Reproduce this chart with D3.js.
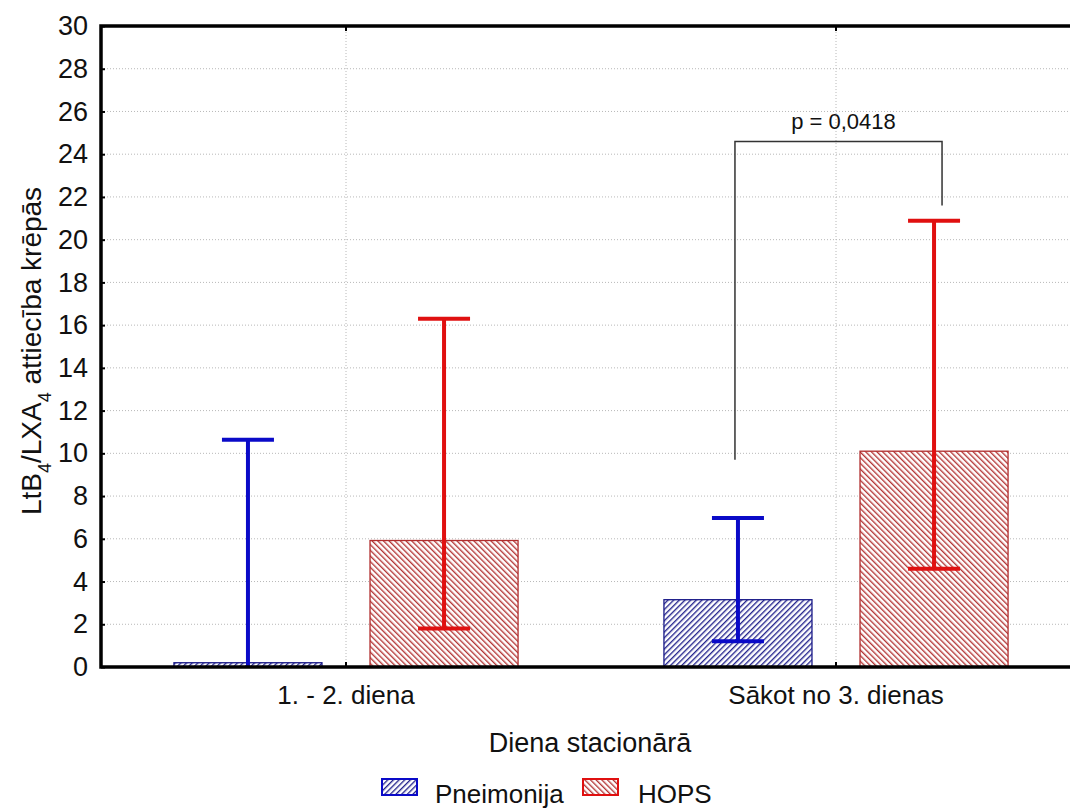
<!DOCTYPE html>
<html lang="lv">
  <head>
    <meta charset="UTF-8">
    <title>LtB4/LXA4 attiecība krēpās</title>
    <style>
      body { margin: 0; background: #fff; }
      text { font-family: "Liberation Sans", Arial, sans-serif; fill: #111; }
    </style>
  </head>
  <body>
    <div id="chart"></div>
    <script src="https://d3js.org/d3.v7.min.js"></script>
    <script>
      // data
      const categories = ["1. - 2. diena", "Sākot no 3. dienas"];
      const groups = ["Pneimonija", "HOPS"];
      const means = { "Pneimonija": [0.2, 3.15], "HOPS": [5.92, 10.1] };
      const lower = { "Pneimonija": [0, 1.2], "HOPS": [1.8, 4.6] };
      const upper = { "Pneimonija": [10.63, 6.97], "HOPS": [16.3, 20.88] };
      const yTicks = d3.range(0, 31, 2);
      const pLabel = "p = 0,0418";
      const bracket = { from: 9.7, top: 24.6, to: 21.6 };

      const colors = { "Pneimonija": "#0a0ac8", "HOPS": "#e01010" };
      const hatchColors = { "Pneimonija": "#1a1a88", "HOPS": "#b02c2c" };

      const W = 1070, H = 808;
      const plotL = 101, plotR = 1081, plotT = 26, plotB = 667;

      const svg = d3.select("#chart").append("svg")
        .attr("width", W).attr("height", H);

      // hatch patterns
      const defs = svg.append("defs");
      function hatch(id, color, dir) {
        const p = defs.append("pattern")
          .attr("id", id)
          .attr("patternUnits", "userSpaceOnUse")
          .attr("width", 4).attr("height", 4)
          .attr("patternTransform", "rotate(" + dir + ")");
        p.append("rect").attr("width", 4).attr("height", 4).attr("fill", "#fff");
        p.append("line").attr("x1", 0.7).attr("y1", 0).attr("x2", 0.7).attr("y2", 4)
          .attr("stroke", color).attr("stroke-width", 1.3);
      }
      hatch("hatch-Pneimonija", hatchColors["Pneimonija"], 45);
      hatch("hatch-HOPS", hatchColors["HOPS"], -45);

      const x = d3.scaleBand().domain(categories).range([plotL, plotR]);
      const xs = d3.scaleBand().domain(groups).range([0, x.bandwidth()])
        .paddingInner(0.245).paddingOuter(0.372);
      const y = d3.scaleLinear().domain([0, 30]).range([plotB, plotT]);

      // grid
      const grid = svg.append("g");
      grid.selectAll("line.h").data(yTicks.filter(d => d > 0 && d < 30)).enter()
        .append("line").attr("class", "h")
        .attr("x1", plotL).attr("x2", plotR)
        .attr("y1", d => y(d)).attr("y2", d => y(d))
        .attr("stroke", "#b8b8b8").attr("stroke-width", 1)
        .attr("stroke-dasharray", "1,2");
      grid.selectAll("line.v").data(categories).enter()
        .append("line").attr("class", "v")
        .attr("x1", d => x(d) + x.bandwidth() / 2).attr("x2", d => x(d) + x.bandwidth() / 2)
        .attr("y1", plotT).attr("y2", plotB)
        .attr("stroke", "#b8b8b8").attr("stroke-width", 1)
        .attr("stroke-dasharray", "1,2");

      // rows for bars
      const rows = [];
      categories.forEach(function(c, i) {
        groups.forEach(function(g) {
          rows.push({ cat: c, group: g, mean: means[g][i], lo: lower[g][i], hi: upper[g][i] });
        });
      });
      const cx = d => x(d.cat) + xs(d.group) + xs.bandwidth() / 2;

      svg.append("g").selectAll("rect").data(rows).enter()
        .append("rect")
        .attr("x", d => x(d.cat) + xs(d.group))
        .attr("y", d => y(d.mean))
        .attr("width", xs.bandwidth())
        .attr("height", d => y(0) - y(d.mean))
        .attr("fill", d => "url(#hatch-" + d.group + ")")
        .attr("stroke", d => hatchColors[d.group])
        .attr("stroke-width", 1.3);

      // error bars
      const err = svg.append("g").selectAll("g").data(rows).enter().append("g")
        .attr("stroke", d => colors[d.group]).attr("stroke-width", 4);
      err.append("line")
        .attr("x1", cx).attr("x2", cx)
        .attr("y1", d => y(d.lo)).attr("y2", d => y(d.hi));
      err.append("line")
        .attr("x1", d => cx(d) - 26).attr("x2", d => cx(d) + 26)
        .attr("y1", d => y(d.hi)).attr("y2", d => y(d.hi));
      err.filter(d => d.lo > 0).append("line")
        .attr("x1", d => cx(d) - 26).attr("x2", d => cx(d) + 26)
        .attr("y1", d => y(d.lo)).attr("y2", d => y(d.lo));

      // significance bracket between the two groups of the 2nd category
      const bx1 = x(categories[1]) + xs(groups[0]) + xs.bandwidth() / 2 - 3;
      const bx2 = x(categories[1]) + xs(groups[1]) + xs.bandwidth() / 2 + 8;
      svg.append("path")
        .attr("d", "M" + bx1 + "," + y(bracket.from) + "V" + y(bracket.top) +
                   "H" + bx2 + "V" + y(bracket.to))
        .attr("fill", "none").attr("stroke", "#333").attr("stroke-width", 1.5);
      svg.append("text")
        .attr("x", (bx1 + bx2) / 2 + 5).attr("y", y(bracket.top) - 12)
        .attr("text-anchor", "middle").style("font-size", "22px")
        .text(pLabel);

      // axes
      const yAxis = svg.append("g").attr("transform", "translate(" + plotL + ",0)")
        .call(d3.axisLeft(y).tickValues(yTicks).tickSize(-4).tickPadding(13));
      yAxis.select(".domain").remove();
      yAxis.selectAll("line").attr("stroke", "#000").attr("stroke-width", 2);
      yAxis.selectAll("text").style("font-size", "27px").attr("fill", "#111");

      const xAxis = svg.append("g").attr("transform", "translate(0," + plotB + ")")
        .call(d3.axisBottom(x).tickSize(-5).tickPadding(19));
      xAxis.select(".domain").remove();
      xAxis.selectAll("line").attr("stroke", "#000").attr("stroke-width", 2);
      xAxis.selectAll("text").style("font-size", "26px").attr("fill", "#111");

      const xTop = svg.append("g").attr("transform", "translate(0," + plotT + ")")
        .call(d3.axisTop(x).tickSize(-5).tickFormat(""));
      xTop.select(".domain").remove();
      xTop.selectAll("line").attr("stroke", "#000").attr("stroke-width", 2);

      svg.append("path")
        .attr("d", "M" + plotR + "," + plotT + "H" + plotL + "V" + plotB + "H" + plotR)
        .attr("fill", "none").attr("stroke", "#000").attr("stroke-width", 3.5);

      // axis titles
      svg.append("text")
        .attr("x", 590).attr("y", 752)
        .attr("text-anchor", "middle").style("font-size", "27px")
        .text("Diena stacionārā");

      const yl = svg.append("text")
        .attr("transform", "translate(41,351) rotate(-90)")
        .attr("text-anchor", "middle").style("font-size", "28px");
      yl.append("tspan").text("LtB");
      yl.append("tspan").attr("baseline-shift", "sub").style("font-size", "18px").text("4");
      yl.append("tspan").text("/LXA");
      yl.append("tspan").attr("baseline-shift", "sub").style("font-size", "18px").text("4");
      yl.append("tspan").text(" attiecība krēpās");

      // legend
      const legX = [382, 583];
      const leg = svg.append("g").selectAll("g").data(groups).enter().append("g")
        .attr("transform", (d, i) => "translate(" + legX[i] + ",779)");
      leg.append("rect")
        .attr("width", 35).attr("height", 16)
        .attr("fill", d => "url(#hatch-" + d + ")")
        .attr("stroke", d => colors[d]).attr("stroke-width", 2);
      leg.append("text")
        .attr("x", (d, i) => i === 0 ? 53 : 55).attr("y", 24)
        .style("font-size", "26px")
        .text(d => d);
    </script>
  </body>
</html>
